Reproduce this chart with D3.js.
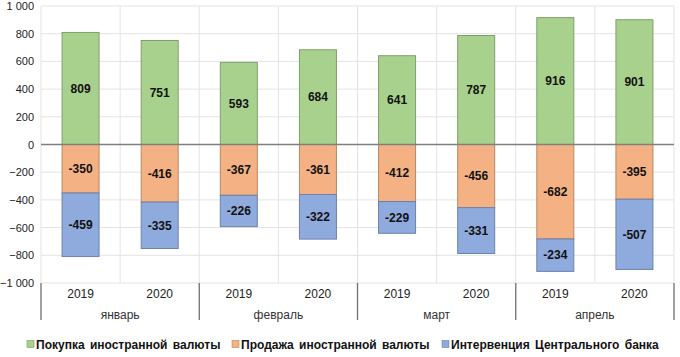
<!DOCTYPE html>
<html><head><meta charset="utf-8">
<script src="https://cdn.jsdelivr.net/npm/d3@7"></script>
<style>body{margin:0;background:#fff}svg{display:block;font-family:"Liberation Sans",Arial,sans-serif}</style>
</head><body><svg id="c" width="680" height="357"></svg>
<script>
const months = ["январь","февраль","март","апрель"];
const years = ["2019","2020"];
const buy = [809, 751, 593, 684, 641, 787, 916, 901];
const sell = [-350, -416, -367, -361, -412, -456, -682, -395];
const intervention = [-459, -335, -226, -322, -229, -331, -234, -507];
const seriesNames = ["Покупка иностранной валюты","Продажа иностранной валюты","Интервенция Центрального банка"];
const colors = ["#a9d18e","#f4b183","#8faadc"];
const strokes = ["#7f9f6a","#b88760","#6a82ad"];
const yTicks = [1000,800,600,400,200,0,-200,-400,-600,-800,-1000];

const svg = d3.select("#c");
const L = 41, R = 674, T = 6, B = 283;
const keys = [];
months.forEach(m => years.forEach(y => keys.push(m + "|" + y)));
const x = d3.scaleBand().domain(keys).range([L, R]).paddingInner(0).paddingOuter(0);
const y = d3.scaleLinear().domain([-1000, 1000]).range([B, T]);
const fmt = v => d3.format(",")(v).replace(",", " ");

// grid
svg.append("g").selectAll("line").data(yTicks).join("line")
  .attr("x1", L).attr("x2", R).attr("y1", d => y(d)).attr("y2", d => y(d))
  .attr("stroke", "#e3e3e3").attr("stroke-width", 1);
const vb = keys.map(k => x(k)).concat([R]);
svg.append("g").selectAll("line").data(vb).join("line")
  .attr("x1", d => d).attr("x2", d => d).attr("y1", T).attr("y2", B)
  .attr("stroke", "#e3e3e3").attr("stroke-width", 1);

// y axis labels
const yAxis = d3.axisLeft(y).tickValues(yTicks).tickSize(0).tickPadding(7).tickFormat(fmt);
const ga = svg.append("g").attr("transform", `translate(${L},0)`).call(yAxis);
ga.select(".domain").remove();
ga.selectAll("text").attr("font-size", 11).attr("fill", "#222").attr("font-family", "Liberation Sans, Arial, sans-serif");

// bars
const bw = 37;
const segs = [];
keys.forEach((k, i) => {
  segs.push({k, s: 0, y0: 0, y1: buy[i], v: buy[i]});
  segs.push({k, s: 1, y0: 0, y1: sell[i], v: sell[i]});
  segs.push({k, s: 2, y0: sell[i], y1: sell[i] + intervention[i], v: intervention[i]});
});
svg.append("g").selectAll("rect").data(segs).join("rect")
  .attr("x", d => x(d.k) + x.bandwidth() / 2 - bw / 2)
  .attr("width", bw)
  .attr("y", d => y(Math.max(d.y0, d.y1)))
  .attr("height", d => Math.abs(y(d.y0) - y(d.y1)))
  .attr("fill", d => colors[d.s]).attr("stroke", d => strokes[d.s]).attr("stroke-width", 1);
svg.append("g").selectAll("text").data(segs).join("text")
  .attr("x", d => x(d.k) + x.bandwidth() / 2)
  .attr("y", d => y((d.y0 + d.y1) / 2))
  .attr("dy", "0.36em").attr("text-anchor", "middle")
  .attr("font-size", 12).attr("font-weight", "bold").attr("fill", "#111")
  .text(d => d.v);

// zero line
svg.append("line").attr("x1", L).attr("x2", R).attr("y1", y(0)).attr("y2", y(0))
  .attr("stroke", "#7f7f7f").attr("stroke-width", 1.5);

// x axis categories
svg.append("g").selectAll("text").data(keys).join("text")
  .attr("x", d => x(d) + x.bandwidth() / 2).attr("y", 298)
  .attr("text-anchor", "middle").attr("font-size", 12).attr("fill", "#222")
  .text(d => d.split("|")[1]);
svg.append("g").selectAll("text").data(months).join("text")
  .attr("x", m => x(m + "|2019") + x.bandwidth()).attr("y", 319)
  .attr("text-anchor", "middle").attr("font-size", 12).attr("fill", "#333")
  .text(m => m);
const seps = months.map(m => x(m + "|2019")).concat([R]);
svg.append("g").selectAll("line").data(seps).join("line")
  .attr("x1", d => d).attr("x2", d => d).attr("y1", B).attr("y2", 320)
  .attr("stroke", "#6f6f6f").attr("stroke-width", 1.3);

// legend
const lx = [27, 232, 442];
const lg = svg.append("g").selectAll("g").data(seriesNames).join("g")
  .attr("transform", (d, i) => `translate(${lx[i]},345)`);
lg.append("rect").attr("x", 0).attr("y", -4.5).attr("width", 7).attr("height", 7)
  .attr("fill", (d, i) => colors[i]).attr("stroke", (d, i) => strokes[i]).attr("stroke-width", 0.6);
lg.append("text").attr("x", 9).attr("y", 0).attr("dy", "0.36em")
  .attr("font-size", 12).attr("font-weight", "bold").attr("fill", "#111")
  .attr("word-spacing", "2px").text(d => d);
</script></body></html>
